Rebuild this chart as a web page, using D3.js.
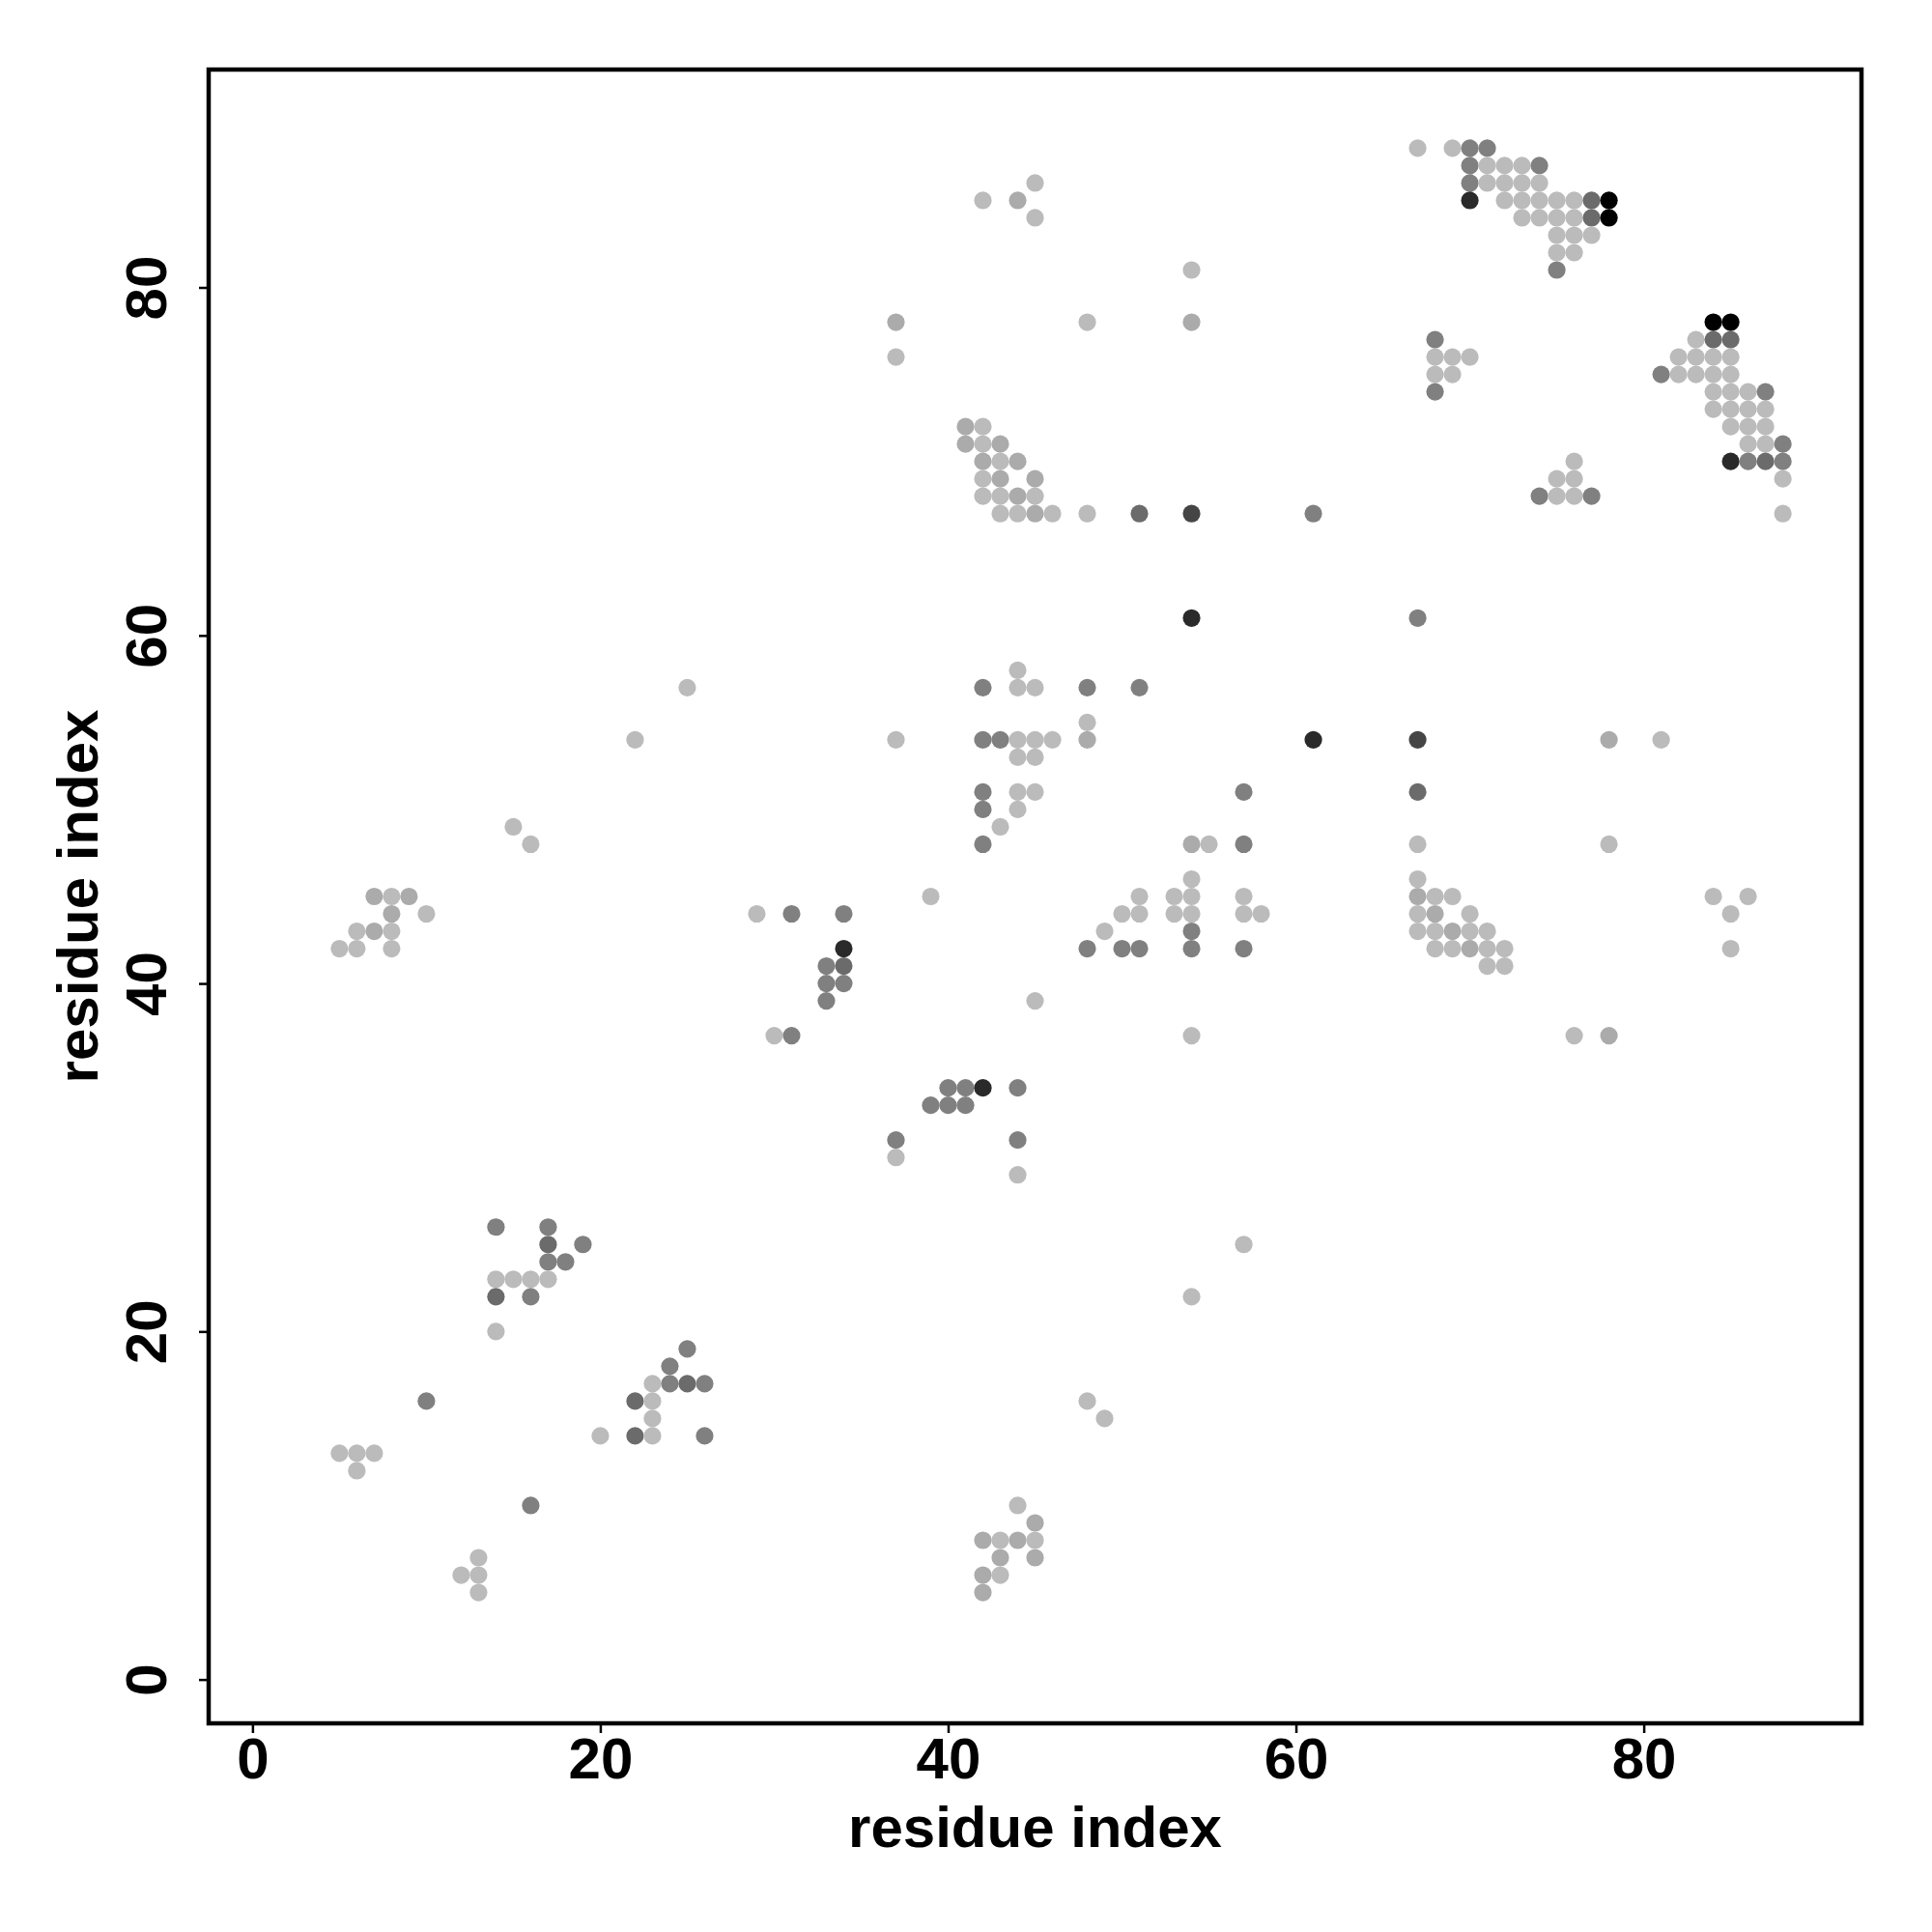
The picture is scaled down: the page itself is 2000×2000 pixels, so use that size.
<!DOCTYPE html>
<html>
<head>
<meta charset="utf-8">
<script src="https://cdn.jsdelivr.net/npm/d3@7"></script>
<style>
  html, body { margin: 0; padding: 0; background: #ffffff; }
  svg { display: block; }
</style>
</head>
<body>
<svg id="chart" width="2000" height="2000"></svg>
<script>
// ---- data: contacts as [residue i, residue j, shade level] ----
const contacts = [
  // upper-right clusters
  [67,88,1],[69,88,1],[70,88,3],[71,88,3],
  [70,87,3],[71,87,1],[72,87,1],[73,87,1],[74,87,3],
  [70,86,3],[71,86,1],[72,86,1],[73,86,1],[74,86,1],
  [70,85,6],[72,85,1],[73,85,1],[74,85,1],[75,85,1],[76,85,1],[77,85,4],[78,85,7],
  [73,84,1],[74,84,1],[75,84,1],[76,84,1],[77,84,4],[78,84,7],
  [75,83,1],[76,83,1],[77,83,1],
  [75,82,1],[76,82,1],
  [75,81,3],
  [84,78,7],[85,78,7],
  [83,77,1],[84,77,4],[85,77,4],
  [82,76,1],[83,76,1],[84,76,1],[85,76,1],
  [81,75,3],[82,75,1],[83,75,1],[84,75,1],[85,75,1],
  [84,74,1],[85,74,1],[86,74,1],[87,74,3],
  [84,73,1],[85,73,1],[86,73,1],[87,73,1],
  [85,72,1],[86,72,1],[87,72,1],
  [86,71,1],[87,71,1],[88,71,3],
  [85,70,6],[86,70,3],[87,70,4],[88,70,3],
  [88,69,1],[88,67,1],
  [68,77,3],[68,76,1],[69,76,1],[70,76,1],[68,75,1],[69,75,1],[68,74,3],
  [76,70,1],[75,69,1],[76,69,1],[74,68,3],[75,68,1],[76,68,1],[77,68,3],
  [61,67,3],[67,61,3],
  // upper-middle
  [45,86,1],[42,85,1],[44,85,2],[45,84,1],[54,81,1],[37,78,2],[48,78,1],[54,78,2],[37,76,1],
  [41,72,2],[42,72,1],[41,71,2],[42,71,1],[43,71,2],
  [42,70,2],[43,70,1],[44,70,2],
  [42,69,1],[43,69,2],[45,69,2],
  [42,68,1],[43,68,1],[44,68,2],[45,68,1],
  [43,67,1],[44,67,1],[45,67,2],[46,67,1],[48,67,1],[51,67,4],[54,67,5],
  [54,61,6],
  // middle
  [44,58,1],[42,57,3],[44,57,1],[45,57,1],[48,57,3],[51,57,3],[48,55,1],
  [37,54,1],[42,54,3],[43,54,3],[44,54,1],[45,54,1],[46,54,1],[48,54,2],[61,54,6],
  [44,53,1],[45,53,1],
  [42,51,3],[44,51,1],[45,51,1],[57,51,3],
  [42,50,3],[44,50,1],[43,49,1],
  [42,48,3],[54,48,2],[55,48,1],[57,48,3],
  [54,46,1],
  [39,45,1],[51,45,1],[53,45,1],[54,45,1],[57,45,1],
  [34,44,3],[50,44,1],[51,44,1],[53,44,1],[54,44,1],[57,44,1],[58,44,1],
  [49,43,1],[54,43,3],
  [34,42,6],[48,42,3],[50,42,3],[51,42,3],[54,42,3],[57,42,3],
  [33,41,3],[34,41,4],[33,40,3],[34,40,3],[33,39,3],[45,39,1],
  [54,37,1],
  [40,34,3],[41,34,3],[42,34,6],[44,34,3],
  [39,33,3],[40,33,3],[41,33,3],
  // middle-right
  [67,54,5],[78,54,2],[81,54,1],[67,51,4],[67,48,1],[78,48,1],[67,46,1],
  [67,45,2],[68,45,1],[69,45,1],[84,45,1],[86,45,1],
  [67,44,1],[68,44,2],[70,44,1],[85,44,1],
  [67,43,1],[68,43,1],[69,43,2],[70,43,1],[71,43,1],
  [68,42,1],[69,42,1],[70,42,2],[71,42,1],[72,42,1],[85,42,1],
  [71,41,1],[72,41,1],
  [76,37,1],[78,37,2],
  // middle-left
  [25,57,1],[22,54,1],[15,49,1],[16,48,1],
  [7,45,2],[8,45,1],[9,45,2],[8,44,2],[10,44,1],
  [6,43,1],[7,43,2],[8,43,1],[5,42,1],[6,42,1],[8,42,1],
  [29,44,1],[31,44,3],[30,37,1],[31,37,3],
  // lower-left
  [14,26,3],[17,26,3],[17,25,4],[19,25,3],[17,24,3],[18,24,3],
  [14,23,1],[15,23,1],[16,23,1],[17,23,1],[14,22,4],[16,22,3],[14,20,1],
  [25,19,3],[24,18,3],[23,17,1],[24,17,3],[25,17,4],[26,17,3],
  [10,16,3],[22,16,4],[23,16,1],[23,15,1],
  [20,14,1],[22,14,4],[23,14,1],[26,14,3],
  [5,13,1],[6,13,1],[7,13,1],[6,12,1],[16,10,3],
  [13,7,1],[12,6,1],[13,6,1],[13,5,1],
  // lower-middle
  [37,31,3],[44,31,3],[37,30,1],[44,29,1],[57,25,1],[54,22,1],
  [48,16,1],[49,15,1],
  [44,10,1],[45,9,2],[42,8,2],[43,8,1],[44,8,2],[45,8,1],
  [43,7,2],[45,7,2],[42,6,2],[43,6,1],[42,5,2]
];
const shadeLevels = [1, 2, 3, 4, 5, 6, 7];
const tickValues = [0, 20, 40, 60, 80];
const xTitle = "residue index";
const yTitle = "residue index";

// ---- styling / layout ----
const shadeColors = ["#bbbbbb", "#ababab", "#808080", "#6b6b6b", "#454545", "#2a2a2a", "#000000"];
const box = { left: 216, right: 1927, top: 72, bottom: 1784 };
const FONT = "'Liberation Sans', Arial, Helvetica, sans-serif";

const svg = d3.select("#chart");
svg.append("rect").attr("width", 2000).attr("height", 2000).attr("fill", "#ffffff");

const x = d3.scaleLinear().domain([-2.52, 92.52]).range([box.left, box.right]);
const y = d3.scaleLinear().domain([-2.52, 92.52]).range([box.bottom, box.top]);
const color = d3.scaleOrdinal().domain(shadeLevels).range(shadeColors);

// points
svg.append("g")
  .selectAll("circle")
  .data(contacts)
  .join("circle")
  .attr("cx", d => x(d[0]))
  .attr("cy", d => y(d[1]))
  .attr("r", 9.1)
  .attr("fill", d => color(d[2]));

// x axis
const gx = svg.append("g")
  .attr("transform", `translate(0,${box.bottom})`)
  .call(d3.axisBottom(x).tickValues(tickValues).tickFormat(d3.format("d")).tickSize(10).tickPadding(4));
gx.select(".domain").remove();
gx.selectAll(".tick line").attr("stroke", "#000").attr("stroke-width", 2.5);
gx.selectAll(".tick text")
  .attr("font-family", FONT).attr("font-weight", "bold").attr("font-size", 60).attr("fill", "#000");

// y axis
const gy = svg.append("g")
  .attr("transform", `translate(${box.left},0)`)
  .call(d3.axisLeft(y).tickValues(tickValues).tickFormat(d3.format("d")).tickSize(10));
gy.select(".domain").remove();
gy.selectAll(".tick line").attr("stroke", "#000").attr("stroke-width", 2.5);
gy.selectAll(".tick text")
  .attr("x", 0).attr("y", 0).attr("dy", null)
  .attr("text-anchor", "middle")
  .attr("transform", `translate(${172 - box.left},0) rotate(-90)`)
  .attr("font-family", FONT).attr("font-weight", "bold").attr("font-size", 60).attr("fill", "#000");

// box
svg.append("rect")
  .attr("x", box.left).attr("y", box.top)
  .attr("width", box.right - box.left).attr("height", box.bottom - box.top)
  .attr("fill", "none").attr("stroke", "#000").attr("stroke-width", 4.5);

// titles
svg.append("text")
  .attr("x", (box.left + box.right) / 2).attr("y", 1912)
  .attr("text-anchor", "middle")
  .attr("font-family", FONT).attr("font-weight", "bold").attr("font-size", 60)
  .text(xTitle);
svg.append("text")
  .attr("transform", `translate(101,${(box.top + box.bottom) / 2}) rotate(-90)`)
  .attr("text-anchor", "middle")
  .attr("font-family", FONT).attr("font-weight", "bold").attr("font-size", 60)
  .text(yTitle);
</script>
</body>
</html>
